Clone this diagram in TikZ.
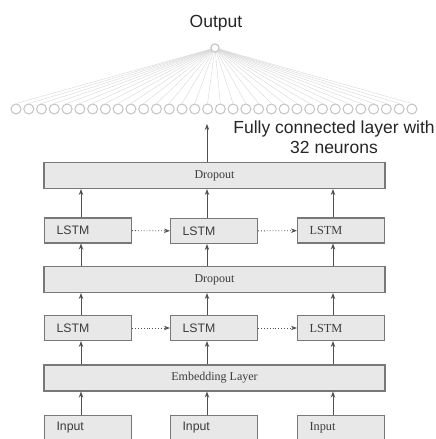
\documentclass[tikz,border=0pt]{standalone}
\usepackage{fontspec}
\setmainfont{Liberation Serif}
\setsansfont{Liberation Sans}
\usetikzlibrary{arrows.meta,positioning,calc}

\definecolor{boxline}{RGB}{120,120,120}
\definecolor{boxfill}{RGB}{232,232,232}
\definecolor{boxtext}{RGB}{60,60,60}
\definecolor{arrowgray}{RGB}{80,80,80}
\definecolor{neuronline}{RGB}{195,195,195}
\definecolor{fanline}{RGB}{215,215,215}

\begin{document}
\begin{tikzpicture}[
x=1pt, y=1pt,
box/.style={draw=boxline, line width=1.1pt, fill=boxfill, text=boxtext, inner sep=0pt},
wide/.style={box, minimum width=341pt, minimum height=26pt, font=\fontsize{12}{14}\selectfont},
cell/.style={box, minimum height=25pt, text width=63pt, inner xsep=12pt, align=left, font=\sffamily\fontsize{12.3}{14}\selectfont},
cellrm/.style={cell, font=\rmfamily\fontsize{12.3}{14}\selectfont},
neuron/.style={circle, draw=neuronline, line width=1pt, fill=white, minimum size=10pt, inner sep=0pt},
arr/.style={-{Stealth[length=6pt,width=4.5pt]}, draw=arrowgray, line width=0.9pt},
dotarr/.style={arr, dotted}
]
\useasboundingbox (0,0) rectangle (436,-439);
\clip (0,0) rectangle (436,-439);

% output and fully connected layer
\node[font=\sffamily\fontsize{17.5}{20}\selectfont, text=black!85] (outtxt) at (216,-23) {Output};
\node[neuron, minimum size=8pt] (out) at (215,-48) {};
\foreach \i in {1,...,32}
  \node[neuron] (n\i) at ({16+(\i-1)*12.77},-109) {};
\foreach \i in {1,...,32}
  \draw[fanline, line width=0.4pt] (out) -- (n\i.north);
\node[neuron, minimum size=8pt] at (out) {};
\node[font=\sffamily\fontsize{17.5}{20}\selectfont, text=black!85, align=center] (fctxt) at (334,-137) {Fully connected layer with\\32 neurons};
\coordinate (fc) at (207,-124);

% layers
\node[wide] (drop1) at (214.5,-175.5) {Dropout};
\node[cell] (lstmA1) at (88,-230.5) {LSTM};
\node[cell] (lstmB1) at (214,-231) {LSTM};
\node[cellrm] (lstmC1) at (341,-230.5) {LSTM};
\node[wide] (drop2) at (214.5,-279.5) {Dropout};
\node[cell] (lstmA2) at (88,-328) {LSTM};
\node[cell] (lstmB2) at (214,-328) {LSTM};
\node[cellrm] (lstmC2) at (341,-328) {LSTM};
\node[wide] (emb) at (214.5,-378) {Embedding Layer};
\node[cell] (inA) at (88,-428) {Input};
\node[cell] (inB) at (214,-428) {Input};
\node[cellrm] (inC) at (341,-428) {Input};

\coordinate (c1) at (81,0);
\coordinate (c2) at (207,0);
\coordinate (c3) at (333,0);

% connectors
\draw[arr] (drop1.north -| c2) -- (fc);
\foreach \col/\lo/\mid/\hi in {c1/inA/lstmA2/lstmA1, c2/inB/lstmB2/lstmB1, c3/inC/lstmC2/lstmC1} {
  \draw[arr] (\lo.north -| \col) -- (emb.south -| \col);
  \draw[arr] (emb.north -| \col) -- (\mid.south -| \col);
  \draw[arr] (\mid.north -| \col) -- (drop2.south -| \col);
  \draw[arr] (drop2.north -| \col) -- (\hi.south -| \col);
  \draw[arr] (\hi.north -| \col) -- (drop1.south -| \col);
}
\draw[dotarr] (lstmA1) -- (lstmB1);
\draw[dotarr] (lstmB1) -- (lstmC1);
\draw[dotarr] (lstmA2) -- (lstmB2);
\draw[dotarr] (lstmB2) -- (lstmC2);
\end{tikzpicture}
\end{document}
